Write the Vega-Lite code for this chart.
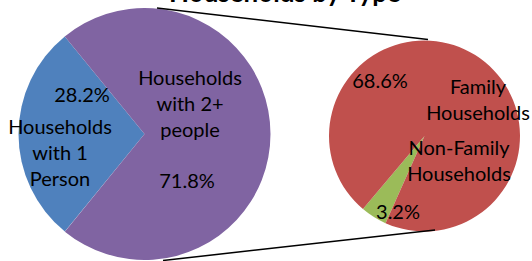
{
  "$schema": "https://vega.github.io/schema/vega-lite/v6.json",
  "width": 532,
  "height": 261,
  "padding": 0,
  "autosize": {"type": "none"},
  "background": "white",
  "config": {"view": {"stroke": null}},
  "datasets": {
    "pies": [
      {"pie": "left", "category": "Households with 1 Person", "value": 28.2, "rank": 1, "cx": 144.5, "cy": 134},
      {"pie": "left", "category": "Households with 2+ people", "value": 71.8, "rank": 2, "cx": 144.5, "cy": 134},
      {"pie": "right", "category": "Non-Family Households", "value": 3.2, "rank": 1, "cx": 424.5, "cy": 136},
      {"pie": "right", "category": "Family Households", "value": 68.6, "rank": 2, "cx": 424.5, "cy": 136}
    ],
    "connectors": [
      {"x": 157, "y": 8, "x2": 428, "y2": 39.5},
      {"x": 163, "y": 260.5, "x2": 435, "y2": 230}
    ],
    "labels": [
      {"label": "28.2%", "x": 82, "y": 102},
      {"label": "Households\nwith 1\nPerson", "x": 60, "y": 134},
      {"label": "Households\nwith 2+\npeople", "x": 190, "y": 85},
      {"label": "71.8%", "x": 187, "y": 188},
      {"label": "68.6%", "x": 380, "y": 88},
      {"label": "Family\nHouseholds", "x": 478, "y": 94},
      {"label": "Non-Family\nHouseholds", "x": 459, "y": 155},
      {"label": "3.2%", "x": 398, "y": 219}
    ],
    "title": [
      {"label": "Households by Type", "x": 285, "y": 2}
    ]
  },
  "layer": [
    {
      "data": {"name": "pies"},
      "transform": [{"filter": "datum.pie === 'left'"}],
      "mark": {"type": "arc", "outerRadius": 126},
      "encoding": {
        "x": {"field": "cx", "type": "quantitative", "scale": {"domain": [0, 532], "nice": false, "zero": false}, "axis": null},
        "y": {"field": "cy", "type": "quantitative", "scale": {"domain": [0, 261], "nice": false, "zero": false, "reverse": true}, "axis": null},
        "theta": {"field": "value", "type": "quantitative", "stack": true, "scale": {"range": [3.826, 10.109]}},
        "order": {"field": "rank", "type": "quantitative"},
        "color": {"field": "category", "type": "nominal", "legend": null,
          "scale": {"domain": ["Households with 1 Person", "Households with 2+ people", "Family Households", "Non-Family Households"],
                    "range": ["#4F81BD", "#8064A2", "#C0504D", "#9BBB59"]}}
      }
    },
    {
      "data": {"name": "pies"},
      "transform": [{"filter": "datum.pie === 'right'"}],
      "mark": {"type": "arc", "outerRadius": 95.5},
      "encoding": {
        "x": {"field": "cx", "type": "quantitative", "axis": null},
        "y": {"field": "cy", "type": "quantitative", "axis": null},
        "theta": {"field": "value", "type": "quantitative", "stack": true, "scale": {"range": [3.562, 9.845]}},
        "order": {"field": "rank", "type": "quantitative"},
        "color": {"field": "category", "type": "nominal", "legend": null}
      }
    },
    {
      "data": {"name": "connectors"},
      "mark": {"type": "rule", "color": "black", "strokeWidth": 1.5},
      "encoding": {
        "x": {"field": "x", "type": "quantitative", "axis": null},
        "y": {"field": "y", "type": "quantitative", "axis": null},
        "x2": {"field": "x2"},
        "y2": {"field": "y2"}
      }
    },
    {
      "data": {"name": "labels"},
      "mark": {"type": "text", "font": "Lato", "fontSize": 20, "color": "black", "align": "center", "baseline": "alphabetic", "lineBreak": "\n", "lineHeight": 26},
      "encoding": {
        "x": {"field": "x", "type": "quantitative", "axis": null},
        "y": {"field": "y", "type": "quantitative", "axis": null},
        "text": {"field": "label", "type": "nominal"}
      }
    },
    {
      "data": {"name": "title"},
      "mark": {"type": "text", "font": "Lato", "fontSize": 26, "fontWeight": "bold", "color": "black", "align": "center", "baseline": "alphabetic"},
      "encoding": {
        "x": {"field": "x", "type": "quantitative", "axis": null},
        "y": {"field": "y", "type": "quantitative", "axis": null},
        "text": {"field": "label", "type": "nominal"}
      }
    }
  ],
  "resolve": {"scale": {"theta": "independent"}}
}
